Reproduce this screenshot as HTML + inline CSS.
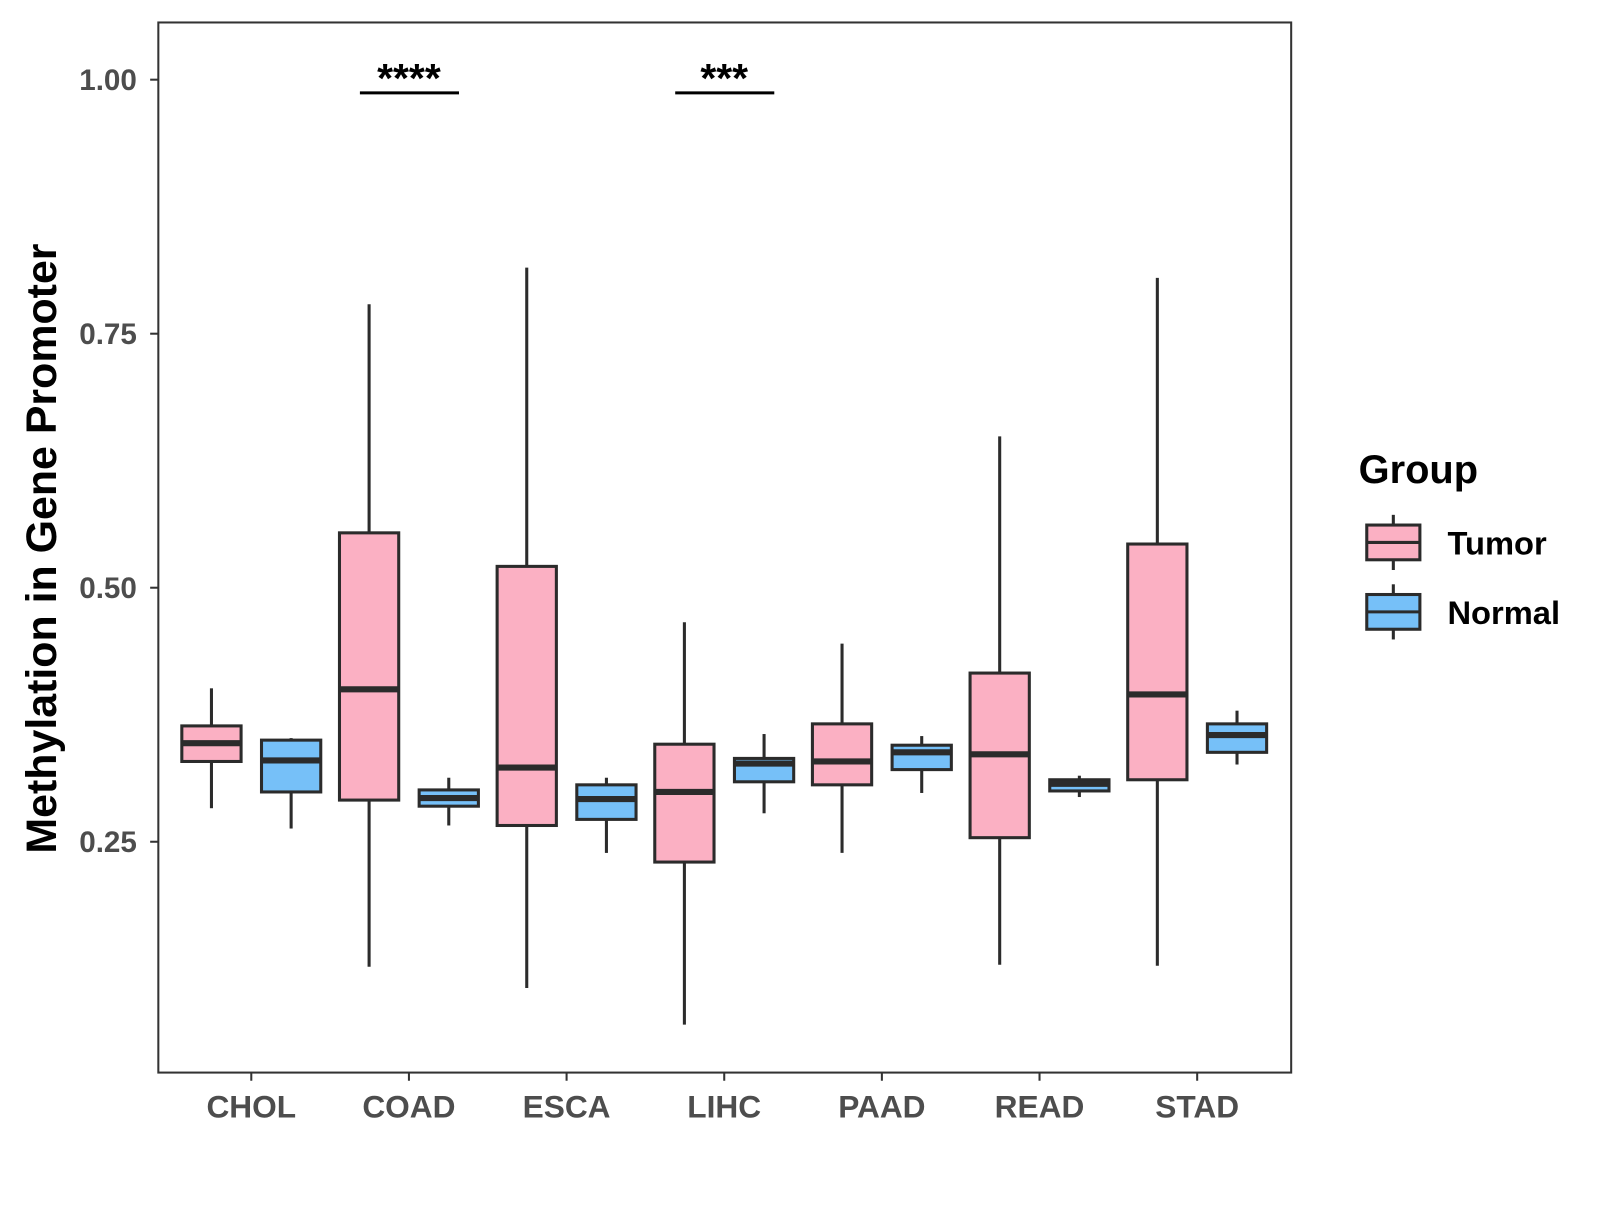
<!DOCTYPE html>
<html><head><meta charset="utf-8"><style>
body{margin:0;background:#fff;}
svg text{font-family:"Liberation Sans",Arial,sans-serif;font-weight:bold;}
</style></head><body>
<svg id="chart" width="1600" height="1200" viewBox="0 0 1600 1200" xmlns="http://www.w3.org/2000/svg">
<g id="root" transform="scale(1.0215)">
<rect x="155" y="22" width="1109" height="1028" fill="#fff" stroke="#333" stroke-width="2"/>
<g id="marks"></g>
<text transform="translate(55,537) rotate(-90)" text-anchor="middle" font-size="42" fill="#000">Methylation in Gene Promoter</text>
<g>
<text x="1330" y="473" font-size="39" fill="#000">Group</text>
</g>
</g>
</svg>
<script>
const categories=["CHOL","COAD","ESCA","LIHC","PAAD","READ","STAD"];
const groups=["Tumor","Normal"];
const tumorLow=[0.283,0.127,0.106,0.070,0.239,0.129,0.128];
const tumorQ1=[0.329,0.291,0.266,0.230,0.306,0.254,0.311];
const tumorMed=[0.347,0.400,0.323,0.299,0.329,0.336,0.395];
const tumorQ3=[0.364,0.554,0.521,0.346,0.366,0.416,0.543];
const tumorHigh=[0.401,0.779,0.815,0.466,0.445,0.649,0.805];
const normalLow=[0.263,0.266,0.239,0.278,0.298,0.294,0.326];
const normalQ1=[0.299,0.285,0.272,0.309,0.321,0.300,0.338];
const normalMed=[0.330,0.293,0.292,0.327,0.338,0.307,0.355];
const normalQ3=[0.350,0.301,0.306,0.332,0.345,0.311,0.366];
const normalHigh=[0.352,0.313,0.313,0.356,0.354,0.315,0.379];
const yTicks=[0.25,0.50,0.75,1.00];
const sigCats=["COAD","LIHC"];
const sigLabels=["****","***"];
const sigY=0.987;
const colors={Tumor:"#FBB0C3",Normal:"#76C0F8"};
const NS="http://www.w3.org/2000/svg";
const g=document.getElementById('marks');
const root=document.getElementById('root');
const y=v=>78+(1-v)*994.7;
const x=i=>246+i*154.33;
const dodge=39,bw=58;
function el(tag,attrs,parent){const e=document.createElementNS(NS,tag);for(const k in attrs)e.setAttribute(k,attrs[k]);(parent||g).appendChild(e);return e;}
yTicks.forEach(t=>{
  const ln=el('line',{x1:147,x2:155,y1:y(t),y2:y(t),stroke:'#333','stroke-width':2});
  
  
  const tx=el('text',{x:134,y:y(t)+10,'text-anchor':'end','font-size':29,fill:'#4d4d4d'});
  tx.textContent=t.toFixed(2);
  
  
});
categories.forEach((c,i)=>{
  const ln=el('line',{x1:x(i),x2:x(i),y1:1050,y2:1058,stroke:'#333','stroke-width':2});
  
  
  const tx=el('text',{x:x(i),y:1094,'text-anchor':'middle','font-size':31,fill:'#4d4d4d'});
  tx.textContent=c;
  
  
});
function box(cx,lo,q1,md,q3,hi,fill,name,mw){
  const grp=el('g',{});
  
  
  el('line',{x1:cx,x2:cx,y1:y(hi),y2:y(q3),stroke:'#2b2b2b','stroke-width':3},grp);
  el('line',{x1:cx,x2:cx,y1:y(q1),y2:y(lo),stroke:'#2b2b2b','stroke-width':3},grp);
  el('rect',{x:cx-bw/2,y:y(q3),width:bw,height:y(q1)-y(q3),fill:fill,stroke:'#2b2b2b','stroke-width':3},grp);
  el('line',{x1:cx-bw/2,x2:cx+bw/2,y1:y(md),y2:y(md),stroke:'#2b2b2b','stroke-width':mw||6},grp);
}
categories.forEach((c,i)=>{
  box(x(i)-dodge,tumorLow[i],tumorQ1[i],tumorMed[i],tumorQ3[i],tumorHigh[i],colors.Tumor,'box-tumor-'+c.toLowerCase());
  box(x(i)+dodge,normalLow[i],normalQ1[i],normalMed[i],normalQ3[i],normalHigh[i],colors.Normal,'box-normal-'+c.toLowerCase());
});
sigCats.forEach((c,k)=>{
  const i=categories.indexOf(c);
  const ln=el('line',{x1:x(i)-48,x2:x(i)+49,y1:y(sigY),y2:y(sigY),stroke:'#000','stroke-width':3});
  
  
  const tx=el('text',{x:x(i),y:y(sigY)-1,'text-anchor':'middle','font-size':40,fill:'#000'});
  tx.textContent=sigLabels[k];
  
  
});
groups.forEach((gname,k)=>{
  const top=514+k*68;
  const grp=el('g',{},root);
  
  
  el('line',{x1:1364,x2:1364,y1:top-10,y2:top+44,stroke:'#2b2b2b','stroke-width':3},grp);
  el('rect',{x:1338,y:top,width:52,height:34,fill:colors[gname],stroke:'#2b2b2b','stroke-width':3},grp);
  el('line',{x1:1338,x2:1390,y1:top+17,y2:top+17,stroke:'#2b2b2b','stroke-width':3},grp);
  const tx=el('text',{x:1417,y:top+29,'font-size':32,fill:'#000'},grp);
  tx.textContent=gname;
});
</script>
</body></html>
